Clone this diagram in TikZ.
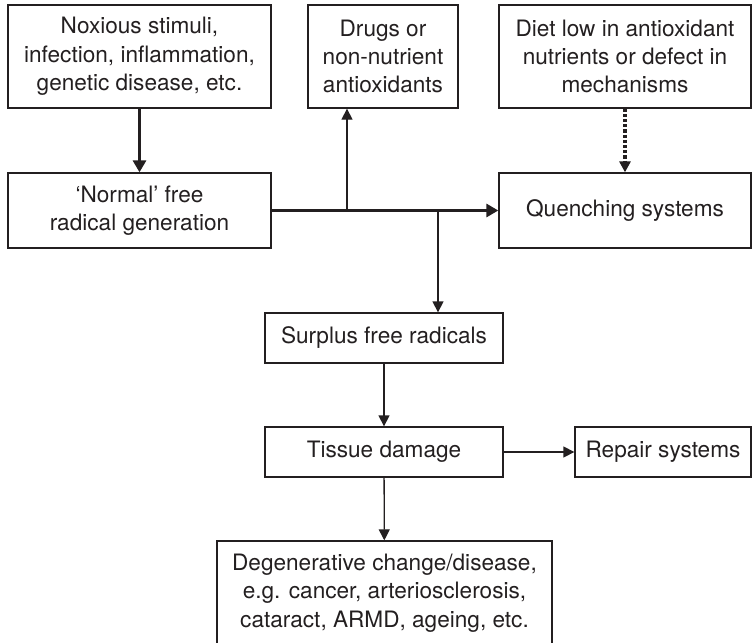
\documentclass[tikz,border=0pt]{standalone}
\usepackage{fontspec}
\setmainfont{TeX Gyre Heros}
\usetikzlibrary{%
  arrows.meta,%
  calc%
}
\definecolor{ink}{RGB}{35,31,32}
\tikzset{
  box/.style={draw=ink,text=ink,line width=0.65pt,align=center,inner sep=0pt,
    font=\fontsize{11.3}{14.2}\selectfont},
  lightarrow/.style={draw=ink,line width=0.65pt,-{Triangle[length=5.5pt,width=5.5pt]}},
  heavyarrow/.style={draw=ink,line width=1.8pt,-{Triangle[length=6pt,width=6.5pt]}},
  dotarrow/.style={draw=ink,line width=1.8pt,dash pattern=on 1.6pt off 1pt,
    -{Triangle[length=5.5pt,width=5.5pt]}}
}

\begin{document}
\begin{tikzpicture}[x=0.5pt,y=-0.5pt]
  \useasboundingbox (0,0) rectangle (752,643);
  % top row
  \node[box,minimum width=131.5pt,minimum height=51.5pt] (noxious) at (139.5,56.5)
  {Noxious stimuli,\\infection, inflammation,\\genetic disease, etc.};
  \node[box,minimum width=75pt,minimum height=51.5pt] (drugs) at (383,56.5)
  {Drugs or\\non-nutrient\\antioxidants};
  \node[box,minimum width=126pt,minimum height=51.5pt] (diet) at (625,56.5)
  {Diet low in antioxidant\\nutrients or defect in\\mechanisms};
  % second row
  \node[box,minimum width=131.5pt,minimum height=37.5pt] (normal) at (139.5,210.5)
  {`Normal' free\\radical generation};
  \node[box,minimum width=126pt,minimum height=37.5pt] (quench) at (625,210.5)
  {Quenching systems};
  % lower chain
  \node[box,minimum width=119pt,minimum height=25pt] (surplus) at (384,338)
  {Surplus free radicals};
  \node[box,minimum width=119pt,minimum height=25pt] (tissue) at (384,452)
  {Tissue damage};
  \node[box,minimum width=88pt,minimum height=25pt] (repair) at (663,452)
  {Repair systems};
  \node[box,minimum width=167.5pt,minimum height=52pt] (degen) at (384.5,593)
  {Degenerative change/disease,\\e.g. cancer, arteriosclerosis,\\cataract, ARMD, ageing, etc.};
  % connectors
  \draw[heavyarrow] (noxious) -- (normal);
  \draw[heavyarrow] (normal.east) -- (quench.west);
  \draw[dotarrow] (diet.south) -- (quench.north);
  \coordinate (branchup) at (347,210.5);
  \coordinate (branchdown) at (438,210.5);
  \draw[lightarrow] (branchup) -- (branchup |- drugs.south);
  \draw[lightarrow] (branchdown) -- (branchdown |- surplus.north);
  \draw[lightarrow] (surplus) -- (tissue);
  \draw[lightarrow] (tissue) -- (repair);
  \draw[lightarrow] (tissue) -- (degen);
\end{tikzpicture}
\end{document}
